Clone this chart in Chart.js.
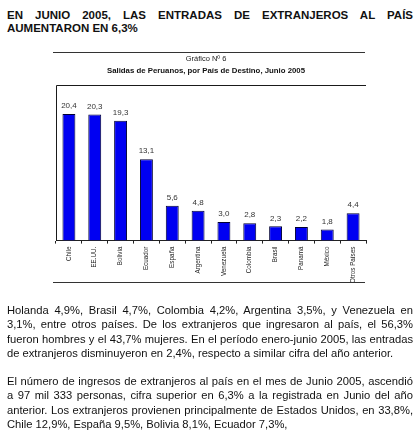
<!DOCTYPE html>
<html>
<head>
<meta charset="utf-8">
<script src="https://cdn.jsdelivr.net/npm/chart.js@4"></script>
<style>
  body { margin: 0; background: #fff; font-family: "Liberation Sans", Arial, sans-serif; color: #111; }
  #page { position: relative; width: 420px; height: 441px; overflow: hidden; }
  h1 { position: absolute; left: 7px; top: 9px; width: 406px; margin: 0; font-size: 11.5px; line-height: 13px; font-weight: bold; text-align: justify; }
  .rule { position: absolute; left: 53px; width: 312px; height: 0; border-top: 1px solid #333; }
  #box { position: absolute; left: 46px; top: 53px; width: 322px; height: 233px; }
  .par { position: absolute; left: 7px; width: 406px; font-size: 11.2px; line-height: 14.4px; }
  .par div { text-align: justify; text-align-last: justify; white-space: nowrap; }
  .par div.last { text-align-last: left; }
</style>
</head>
<body>
<div id="page">
  <h1>EN JUNIO 2005, LAS ENTRADAS DE EXTRANJEROS AL PAÍS AUMENTARON EN 6,3%</h1>
  <div class="rule" style="top:52px"></div>
  <div id="box"><canvas id="barChart"></canvas></div>
  <div class="rule" style="top:282px"></div>
  <div class="par" style="top:303px">
    <div>Holanda 4,9%, Brasil 4,7%, Colombia 4,2%, Argentina 3,5%, y Venezuela en</div>
    <div>3,1%, entre otros países. De los extranjeros que ingresaron al país, el 56,3%</div>
    <div>fueron hombres y el 43,7% mujeres. En el período enero-junio 2005, las entradas</div>
    <div class="last">de extranjeros disminuyeron en 2,4%, respecto a similar cifra del año anterior.</div>
  </div>
  <div class="par" style="top:374px">
    <div>El número de ingresos de extranjeros al país en el mes de Junio 2005, ascendió</div>
    <div>a 97 mil 333 personas, cifra superior en 6,3% a la registrada en Junio del año</div>
    <div>anterior. Los extranjeros provienen principalmente de Estados Unidos, en 33,8%,</div>
    <div class="last">Chile 12,9%, España 9,5%, Bolivia 8,1%, Ecuador 7,3%,</div>
  </div>
</div>
<script>
var paises = ["Chile", "EE.UU.", "Bolivia", "Ecuador", "España", "Argentina", "Venezuela", "Colombia", "Brasil", "Panamá", "México", "Otros Países"];
var salidas = [20.4, 20.3, 19.3, 13.1, 5.6, 4.8, 3.0, 2.8, 2.3, 2.2, 1.8, 4.4];
var tituloGrafico = "Gráfico Nº 6";
var subtituloGrafico = "Salidas de Peruanos, por País de Destino, Junio 2005";

// numbers with comma decimals over each bar
var valueLabels = {
  id: 'valueLabels',
  afterDatasetsDraw: function(chart) {
    var ctx = chart.ctx;
    var meta = chart.getDatasetMeta(0);
    ctx.save();
    ctx.font = '8px "Liberation Sans", Arial, sans-serif';
    ctx.fillStyle = '#333';
    ctx.textAlign = 'center';
    ctx.textBaseline = 'bottom';
    meta.data.forEach(function(bar, i) {
      ctx.fillText(salidas[i].toFixed(1).replace('.', ','), bar.x, bar.y - 4);
    });
    ctx.restore();
  }
};

// top and left lines of the plot frame
var frameLines = {
  id: 'frameLines',
  afterDraw: function(chart) {
    var a = chart.chartArea, ctx = chart.ctx;
    var l = Math.round(a.left) + 0.5, t = Math.round(a.top) + 0.5;
    ctx.save();
    ctx.strokeStyle = '#1a1a1a';
    ctx.lineWidth = 1;
    ctx.beginPath();
    ctx.moveTo(l, a.bottom);
    ctx.lineTo(l, t);
    ctx.lineTo(a.right, t);
    ctx.stroke();
    ctx.restore();
  }
};

var myBarChart = new Chart(document.getElementById("barChart"), {
  type: 'bar',
  data: {
    labels: paises,
    datasets: [{
      data: salidas,
      backgroundColor: "#0000f2",
      borderColor: "#000033",
      borderWidth: 1,
      barPercentage: 0.5,
      categoryPercentage: 1
    }]
  },
  options: {
    responsive: true,
    maintainAspectRatio: false,
    animation: false,
    layout: { padding: { left: 0, right: 2, top: 0, bottom: 0 } },
    plugins: {
      legend: { display: false },
      tooltip: { enabled: false },
      title: {
        display: true,
        text: tituloGrafico,
        color: '#222',
        font: { family: '"Liberation Sans", Arial', size: 7.5, weight: 'normal' },
        padding: { top: 1, bottom: 2 }
      },
      subtitle: {
        display: true,
        text: subtituloGrafico,
        color: '#111',
        font: { family: '"Liberation Sans", Arial', size: 7.8, weight: 'bold' },
        padding: { top: 1, bottom: 10 }
      }
    },
    scales: {
      x: {
        grid: { display: true, drawOnChartArea: false, offset: true, tickLength: 3, color: '#222' },
        border: { display: true, color: '#222', width: 1 },
        ticks: {
          minRotation: 90, maxRotation: 90, autoSkip: false, padding: 3,
          color: '#222',
          font: { family: '"Liberation Sans", Arial', size: 6.3 }
        }
      },
      y: {
        min: 0,
        max: 25,
        grid: { display: false },
        border: { display: false },
        ticks: { display: false },
        afterFit: function(scale) { scale.width = 10; }
      }
    }
  },
  plugins: [valueLabels, frameLines]
});
</script>
</body>
</html>
